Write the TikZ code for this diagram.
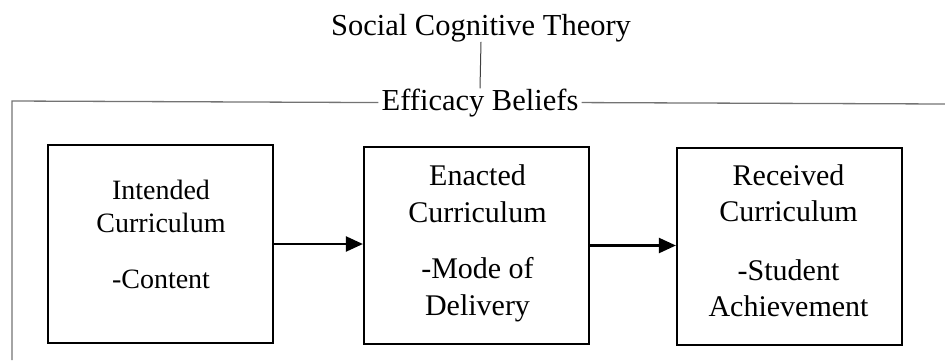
\documentclass[tikz,border=0pt]{standalone}
\usepackage{fontspec}
\setmainfont{Liberation Serif}
\usetikzlibrary{arrows.meta}
\begin{document}
\begin{tikzpicture}[x=1pt,y=-1pt,
  framebox/.style={draw, line width=2.2pt, minimum width=225pt, minimum height=197pt, inner sep=0pt},
  boxtext/.style={align=center, inner sep=0pt, anchor=north},
  flow/.style={line width=2.2pt, -{Triangle[length=17pt,width=15pt]}},
  rule/.style={draw=black!55, line width=1.3pt},
  heading/.style={inner xsep=3pt, inner ysep=0pt, anchor=base, font=\fontsize{30.5}{36}\selectfont}]
\useasboundingbox (0,0) rectangle (945,360);

% headings and the link between them
\node[heading] (title) at (481,35) {Social Cognitive Theory};
\node[heading] (eff) at (480,110) {Efficacy Beliefs};
\draw[black!75, line width=1pt] (title.south) -- (eff.north);

% open frame under the efficacy beliefs heading
\coordinate (corner) at (12,101);
\coordinate (edge) at (945,104);
\coordinate (foot) at (12,360);
\draw[rule] (eff.west) -- (corner) -- (foot);
\draw[rule] (eff.east) -- (edge);

% curriculum boxes
\node[framebox, minimum height=198pt] (b1) at (160.5,244) {};
\node[framebox] (b2) at (476.5,245.5) {};
\node[framebox] (b3) at (789.5,246.5) {};

\node[boxtext, font=\fontsize{28}{33}\selectfont] (t1) at (161,175)
  {\rule{0pt}{24pt}Intended\\ Curriculum\\[23pt] -Content};
\node[boxtext, font=\fontsize{30}{37}\selectfont] (t2) at (477.5,161)
  {\rule{0pt}{24pt}Enacted\\ Curriculum\\[19pt] -Mode of\\ Delivery};
\node[boxtext, font=\fontsize{30}{36}\selectfont] (t3) at (788.5,161)
  {\rule{0pt}{24pt}Received\\ Curriculum\\[23pt] -Student\\ Achievement};

% flow between the boxes
\draw[flow] (b1.east) -- (b1.east -| b2.west);
\draw[flow] (b2.east) -- (b2.east -| b3.west);
\end{tikzpicture}
\end{document}
